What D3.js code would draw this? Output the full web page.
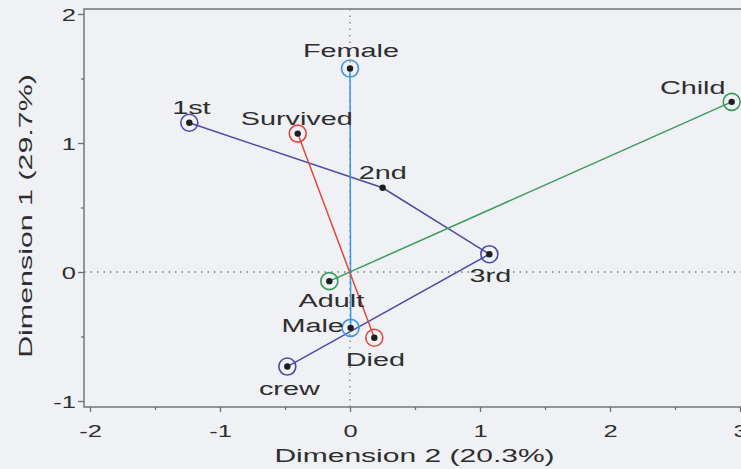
<!DOCTYPE html>
<html>
<head>
<meta charset="utf-8">
<script src="https://cdn.jsdelivr.net/npm/d3@7"></script>
<style>
  html, body { margin: 0; padding: 0; background: #eff1f4; }
  svg { display: block; }
  text { font-family: "Liberation Sans", Arial, Helvetica, sans-serif; fill: #2e2e2e; }
</style>
</head>
<body>
<script>
// ---- data ----
const classNames = ["1st", "2nd", "3rd", "crew"];
const classDim2  = [-1.236, 0.251, 1.072, -0.482];
const classDim1  = [1.157, 0.653, 0.138, -0.733];
const classCircled = [true, false, true, true];

const sexNames = ["Female", "Male"];
const sexDim2  = [0.0, 0.005];
const sexDim1  = [1.577, -0.433];

const survNames = ["Survived", "Died"];
const survDim2  = [-0.402, 0.187];
const survDim1  = [1.073, -0.51];

const ageNames = ["Child", "Adult"];
const ageDim2  = [2.936, -0.159];
const ageDim1  = [1.319, -0.071];

const xTicks = [-2, -1, 0, 1, 2, 3];
const xMinor = [-1.5, -0.5, 0.5, 1.5, 2.5];
const yTicks = [-1, 0, 1, 2];
const yMinor = [-0.5, 0.5, 1.5];
const xTitle = "Dimension 2 (20.3%)";
const yTitle = "Dimension 1 (29.7%)";

// ---- layout / styles ----
const W = 741, H = 469;
const frame = { left: 84, right: 747, top: 9, bottom: 407 };
const labelPlace = {
  "Female":   [1, -12], "1st": [2, -9], "Survived": [-1, -9], "2nd": [0, -9],
  "Child":    [-39, -8], "3rd": [1, 28], "Adult": [2, 26], "Male": [-38, 4],
  "Died":     [1, 28], "crew": [2, 28]
};
const STRETCH = 1.6;

const svg = d3.select("body").append("svg").attr("width", W).attr("height", H);
svg.append("rect").attr("width", W).attr("height", H).attr("fill", "#eff1f4");

const x = d3.scaleLinear().domain([-2, 3]).range([90, 740]);
const y = d3.scaleLinear().domain([-1, 2]).range([401, 14]);

// frame
svg.append("rect")
  .attr("x", frame.left).attr("y", frame.top)
  .attr("width", frame.right - frame.left).attr("height", frame.bottom - frame.top)
  .attr("fill", "none").attr("stroke", "#6e6e6e").attr("stroke-width", 1.4);

// reference dotted lines
svg.append("line")
  .attr("x1", x(0)).attr("x2", x(0)).attr("y1", frame.top).attr("y2", frame.bottom)
  .attr("stroke", "#7a7a7a").attr("stroke-width", 1.3).attr("stroke-dasharray", "1.5,5");
svg.append("line")
  .attr("x1", frame.left).attr("x2", frame.right).attr("y1", y(0)).attr("y2", y(0))
  .attr("stroke", "#7a7a7a").attr("stroke-width", 1.3).attr("stroke-dasharray", "1.5,5");

// axes
const gx = svg.append("g").attr("transform", `translate(0,${frame.bottom})`)
  .call(d3.axisBottom(x).tickValues(xTicks).tickSize(5).tickPadding(20).tickFormat(d => d < 0 ? "-" + Math.abs(d) : d));
const gxm = svg.append("g").attr("transform", `translate(0,${frame.bottom})`)
  .call(d3.axisBottom(x).tickValues(xMinor).tickSize(3).tickFormat(""));
const gy = svg.append("g").attr("transform", `translate(${frame.left},0)`)
  .call(d3.axisLeft(y).tickValues(yTicks).tickSize(6).tickFormat(d => d < 0 ? "-" + Math.abs(d) : d));
const gym = svg.append("g").attr("transform", `translate(${frame.left},0)`)
  .call(d3.axisLeft(y).tickValues(yMinor).tickSize(3).tickFormat(""));
[gx, gxm, gy, gym].forEach(g => {
  g.select(".domain").remove();
  g.selectAll(".tick line").attr("stroke", "#6e6e6e").attr("stroke-width", 1.3);
});
gx.selectAll(".tick text")
  .attr("y", 0).attr("dy", null)
  .attr("transform", `translate(0,30) scale(1.5,1)`)
  .style("font-size", "17px").style("font-family", "Liberation Sans, Arial, sans-serif").attr("fill", "#2e2e2e");
gy.selectAll(".tick text")
  .attr("x", 0).attr("dy", "0.36em")
  .attr("transform", `translate(-8,0) scale(1.5,1)`)
  .style("font-size", "17px").style("font-family", "Liberation Sans, Arial, sans-serif").attr("fill", "#2e2e2e");

// axis titles
svg.append("text")
  .attr("text-anchor", "middle")
  .attr("transform", `translate(${(frame.left + 745) / 2},462) scale(1.58,1)`)
  .style("font-size", "19px")
  .text(xTitle);
svg.append("text")
  .attr("text-anchor", "middle")
  .attr("transform", `translate(32,216) rotate(-90) scale(1.6,1)`)
  .style("font-size", "19px")
  .text(yTitle);

// groups
const groups = [
  { names: classNames, d2: classDim2, d1: classDim1, circled: classCircled, color: "#4a4aa6" },
  { names: sexNames,   d2: sexDim2,   d1: sexDim1,   circled: [true, true], color: "#3f95e0" },
  { names: survNames,  d2: survDim2,  d1: survDim1,  circled: [true, true], color: "#e0483c" },
  { names: ageNames,   d2: ageDim2,   d1: ageDim1,   circled: [true, true], color: "#3c9a5c" }
];
const line = d3.line().x(d => x(d.d2)).y(d => y(d.d1));
const pts = g => g.names.map((n, i) => ({ name: n, d2: g.d2[i], d1: g.d1[i], circled: g.circled[i], color: g.color }));

groups.forEach(g => {
  svg.append("path").datum(pts(g)).attr("d", line)
    .attr("fill", "none").attr("stroke", g.color).attr("stroke-width", 1.5);
});
groups.forEach(g => {
  svg.selectAll(null).data(pts(g).filter(p => p.circled)).enter().append("circle")
    .attr("cx", p => x(p.d2)).attr("cy", p => y(p.d1)).attr("r", 8.5)
    .attr("fill", "none").attr("stroke", g.color).attr("stroke-width", 1.6);
});
groups.forEach(g => {
  svg.selectAll(null).data(pts(g)).enter().append("circle")
    .attr("cx", p => x(p.d2)).attr("cy", p => y(p.d1)).attr("r", 3.2)
    .attr("fill", "#1e1e1e");
});
groups.forEach(g => {
  svg.selectAll(null).data(pts(g)).enter().append("text")
    .attr("text-anchor", "middle")
    .attr("transform", p => `translate(${x(p.d2) + labelPlace[p.name][0]},${y(p.d1) + labelPlace[p.name][1]}) scale(${STRETCH},1)`)
    .style("font-size", "18px")
    .text(p => p.name);
});
</script>
</body>
</html>
